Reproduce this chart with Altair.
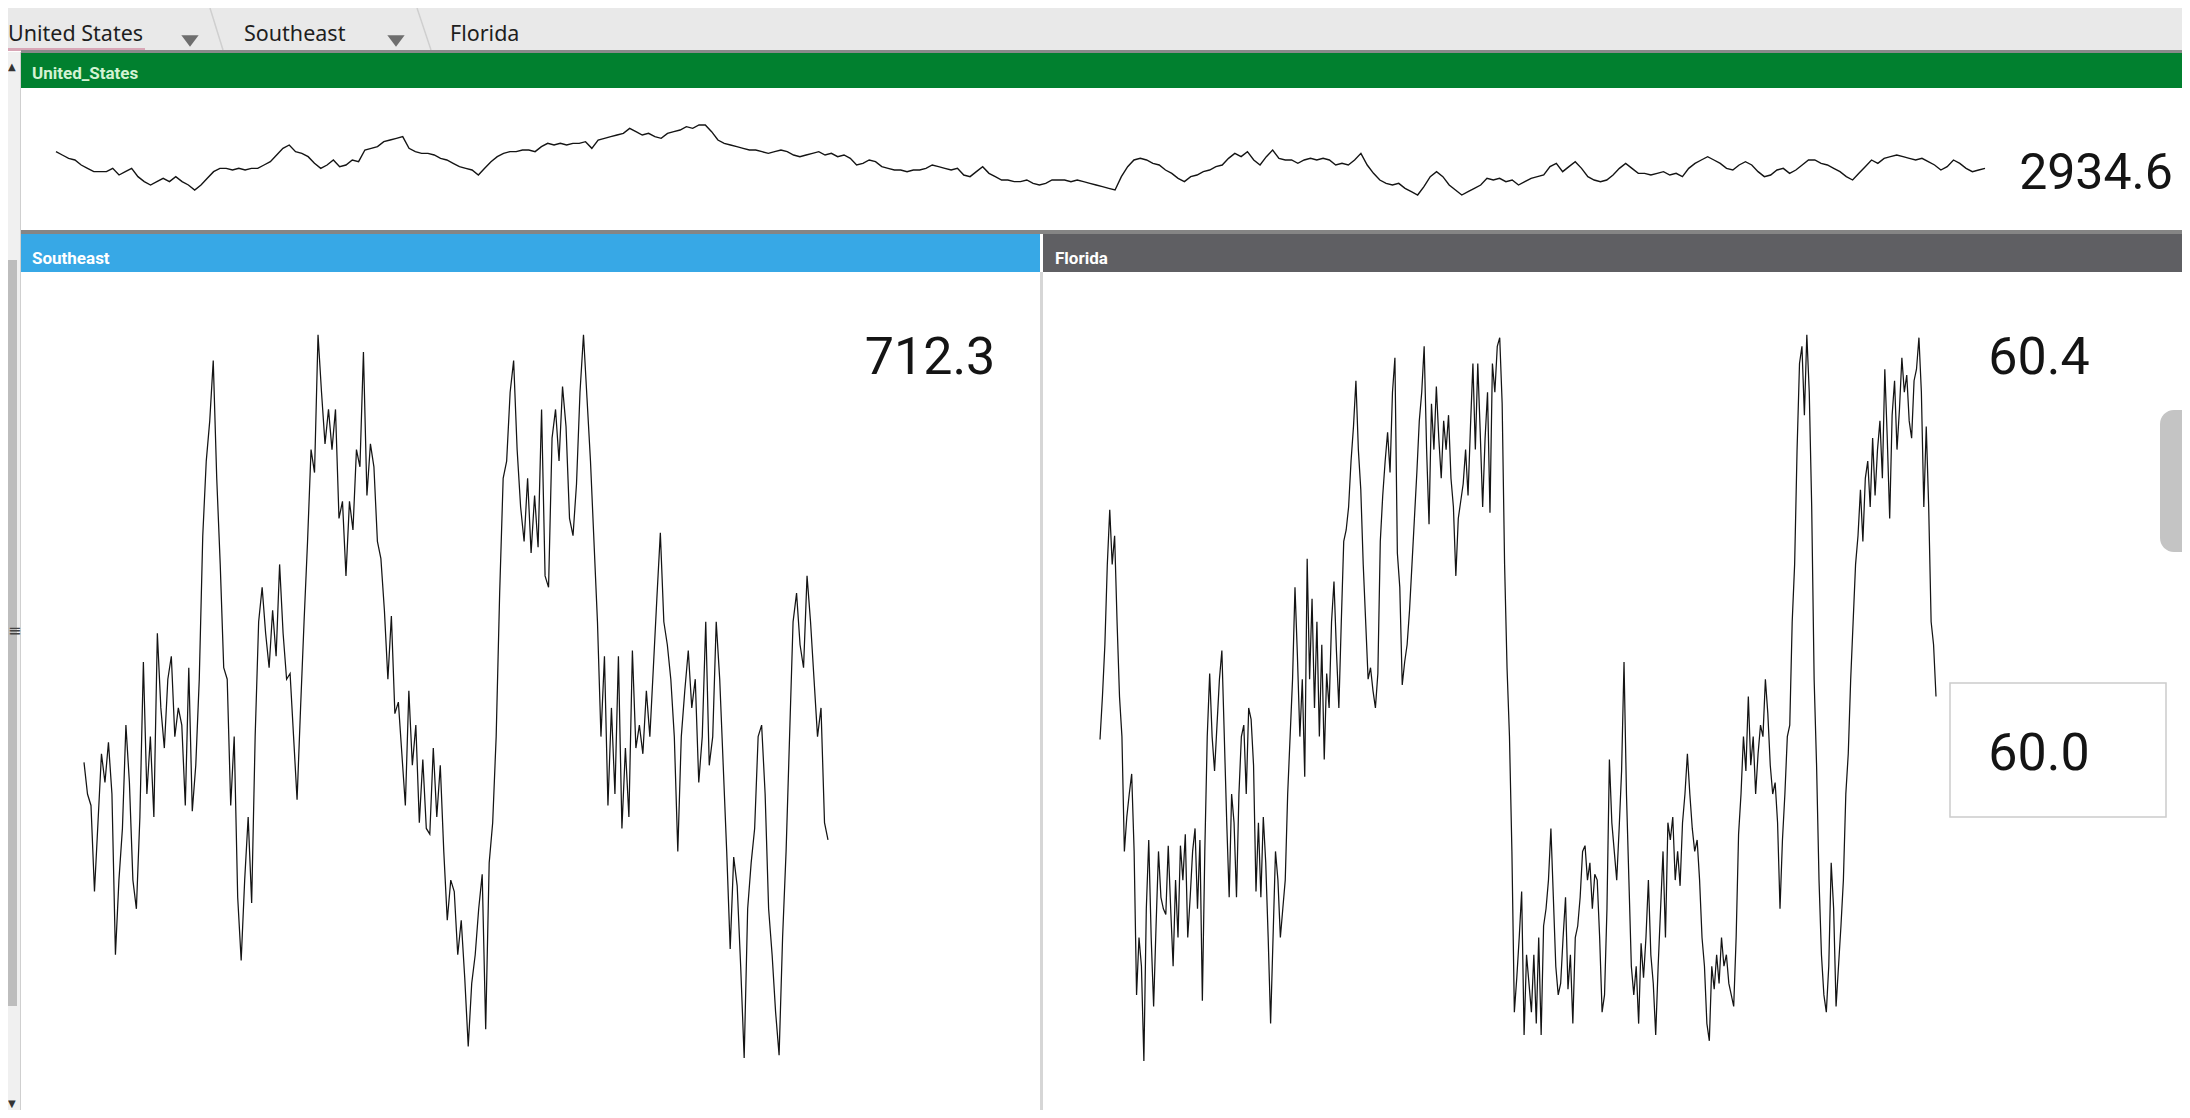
import altair as alt
import pandas as pd

# ---------------- data ----------------
breadcrumb = ["United States", "Southeast", "Florida"]
panel_names = ["United_States", "Southeast", "Florida"]
current_values = [2934.6, 712.3, 60.4]
florida_target = [60.0]

us_values = [175, 165, 155, 150, 135, 125, 115, 115, 115, 125, 105, 115, 125, 100, 85, 75, 85, 95, 85, 100,
             85, 75, 60, 75, 95, 115, 125, 125, 120, 125, 120, 125, 125, 135, 145, 165, 185, 195, 175, 170,
             160, 140, 125, 135, 150, 130, 135, 150, 145, 180, 185, 190, 205, 210, 215, 220, 185, 175, 170, 170,
             165, 155, 150, 140, 130, 125, 120, 105, 125, 145, 160, 170, 175, 175, 180, 180, 175, 190, 200, 195,
             200, 195, 200, 200, 205, 185, 210, 215, 220, 225, 230, 245, 235, 225, 230, 220, 215, 230, 235, 240,
             250, 245, 255, 255, 235, 210, 200, 195, 190, 185, 180, 180, 175, 170, 175, 180, 175, 165, 160, 165,
             170, 175, 165, 170, 160, 165, 155, 135, 140, 150, 145, 130, 125, 120, 120, 115, 120, 120, 125, 135,
             130, 125, 120, 125, 105, 100, 115, 130, 110, 100, 90, 90, 85, 85, 90, 80, 75,
             80, 90, 90, 90, 85, 90, 85, 80, 75, 70, 65, 60, 100, 130, 150, 155, 150, 140, 135, 120,
             110, 95, 85, 100, 105, 115, 120, 130, 135, 155, 170, 160, 175, 150, 135, 160, 180, 155, 150, 150,
             140, 150, 155, 150, 155, 150, 135, 140, 135, 150, 170, 135, 110, 90, 80, 75, 80, 65, 55, 45,
             70, 100, 115, 100, 75, 60, 45, 55, 65, 75, 95, 90, 95, 85, 90, 75, 85, 95, 100, 105,
             130, 140, 115, 130, 145, 125, 100, 90, 85, 90, 105, 125, 140, 125, 110, 110, 105, 110, 115, 105,
             110, 100, 125, 140, 150, 160, 150, 140, 125, 120, 135, 145, 135, 115, 100, 105, 120, 125, 110, 120,
             135, 150, 150, 140, 135, 125, 115, 100, 90, 110, 130, 150, 140, 155, 160, 165, 160, 155, 150, 155,
             145, 135, 120, 130, 150, 140, 125, 115, 120, 125]

se_values = [555, 500, 480, 330, 450, 570, 520, 590, 500, 220, 350, 440, 620, 520, 350, 300, 460, 730, 500, 600,
             460, 780, 650, 580, 700, 740, 600, 650, 620, 480, 720, 470, 550, 700, 950, 1080, 1150, 1255, 1050, 900,
             720, 700, 480, 600, 320, 210, 350, 460, 310, 600, 800, 860, 780, 720, 820, 740, 900, 780, 700, 710,
             600, 490, 650, 800, 940, 1100, 1060, 1300, 1200, 1110, 1170, 1100, 1170, 980, 1010, 880, 1010, 960, 1100, 1070,
             1270, 1020, 1110, 1070, 940, 910, 820, 700, 810, 640, 660, 570, 480, 680, 550, 620, 450, 560, 440, 430,
             580, 460, 550, 400, 280, 350, 330, 220, 280, 180, 60, 170, 220, 300, 360, 90, 380, 450, 600, 850,
             1050, 1080, 1200, 1255, 1100, 1000, 940, 1050, 920, 1020, 930, 1170, 880, 860, 1120, 1170, 1080, 1210, 1140, 980,
             950, 1040, 1200, 1300, 1190, 1080, 940, 800, 600, 740, 480, 650, 500, 740, 440, 580, 460, 750, 580, 620,
             570, 680, 600, 720, 840, 955, 800, 760, 700, 600, 400, 600, 680, 750, 650, 700, 520, 600, 800, 550,
             600, 800, 700, 550, 400, 230, 390, 340, 200, 40, 300, 380, 440, 600, 620, 500, 300, 220, 120, 45,
             250, 400, 600, 800, 850, 760, 720, 880, 800, 700, 600, 650, 450, 420]

fl_values = [595, 670, 760, 900, 995, 900, 950, 800, 670, 600, 400, 460, 500, 535, 400, 150, 250, 200, 35, 300,
             420, 250, 130, 270, 400, 320, 300, 290, 410, 300, 200, 350, 250, 410, 350, 430, 250, 320, 400, 440,
             300, 420, 140, 400, 600, 710, 600, 540, 620, 700, 750, 600, 450, 320, 500, 450, 320, 500, 600, 620,
             500, 650, 630, 550, 330, 450, 320, 460, 380, 250, 100, 250, 400, 350, 250, 300, 350, 500, 600, 700,
             860, 740, 600, 700, 530, 910, 700, 840, 650, 800, 600, 760, 560, 710, 650, 800, 870, 750, 650, 800,
             940, 960, 1000, 1080, 1140, 1220, 1100, 1030, 900, 800, 700, 720, 680, 650, 710, 940, 1020, 1080, 1130, 1060,
             1200, 1260, 920, 860, 690, 730, 760, 820, 900, 980, 1060, 1150, 1200, 1280, 1100, 970, 1180, 1100, 1210, 1120,
             1050, 1150, 1100, 1160, 1050, 1000, 880, 980, 1010, 1040, 1100, 1020, 1140, 1250, 1100, 1250, 1130, 1000, 1120, 1200,
             990, 1250, 1200, 1280, 1295, 1180, 900, 720, 600, 400, 120, 180, 250, 330, 80, 220, 170, 120, 220, 100,
             250, 80, 270, 300, 350, 440, 320, 200, 150, 170, 250, 320, 160, 220, 100, 250, 270, 320, 400, 410,
             350, 380, 300, 360, 350, 250, 120, 150, 300, 560, 450, 400, 350, 440, 540, 730, 500, 350, 200, 150,
             200, 100, 240, 180, 250, 350, 220, 170, 80, 200, 300, 400, 250, 450, 420, 460, 350, 400, 340, 450,
             500, 570, 500, 440, 400, 420, 350, 250, 200, 100, 70, 200, 160, 220, 170, 250, 200, 220, 170, 150,
             130, 250, 430, 500, 600, 540, 670, 550, 600, 500, 570, 620, 600, 700, 640, 550, 500, 520, 450, 300,
             420, 500, 600, 620, 800, 900, 1100, 1250, 1280, 1160, 1300, 1200, 1000, 700, 550, 350, 220, 150, 120, 200,
             380, 300, 130, 200, 270, 350, 500, 570, 700, 800, 900, 950, 1030, 940, 1050, 1080, 1000, 1120, 1020, 1100,
             1150, 1050, 1240, 1120, 980, 1160, 1220, 1100, 1170, 1260, 1200, 1230, 1150, 1120, 1220, 1240, 1295, 1200, 1000, 1140,
             1000, 800, 760, 670]

# ---------------- layout / style ----------------
W, H = 2174, 1102
one = pd.DataFrame({"k": [0]})
LINE = "#141414"
NUMFONT = "Roboto, sans-serif"
HEADFONT = "Roboto, sans-serif"
UI = "Noto Sans, Open Sans, sans-serif"


def rect(x, x2, y, y2, fill, **kw):
    return alt.Chart(one).mark_rect(fill=fill, **kw).encode(
        x=alt.value(x), x2=alt.value(x2), y=alt.value(y), y2=alt.value(y2))


def label(s, x, y, size, color, font=UI, weight="normal", align="left", baseline="alphabetic"):
    return alt.Chart(pd.DataFrame({"label": [s]})).mark_text(
        font=font, fontSize=size, color=color, fontWeight=weight, align=align, baseline=baseline
    ).encode(x=alt.value(x), y=alt.value(y), text=alt.Text("label:N"))


def number(v, x, y, size=52):
    return alt.Chart(pd.DataFrame({"value": [v]})).mark_text(
        font=NUMFONT, fontSize=size, color="#141414", align="center", baseline="alphabetic"
    ).encode(x=alt.value(x), y=alt.value(y), text=alt.Text("value:Q", format=".1f"))


def spark(vals, xr, yr, dom, width=1.2):
    df = pd.DataFrame({"t": list(range(len(vals))), "v": vals})
    return alt.Chart(df).mark_line(color=LINE, strokeWidth=width).encode(
        x=alt.X("t:Q", axis=None,
                scale=alt.Scale(domain=[0, len(vals) - 1], range=xr, nice=False, zero=False)),
        y=alt.Y("v:Q", axis=None,
                scale=alt.Scale(domain=dom, range=yr, nice=False, zero=False)))


tri = alt.Chart(pd.DataFrame({"k": [0, 1]})).mark_point(
    shape="M-1,-0.65L1,-0.65L0,0.65Z", size=300, filled=True, color="#6e6e6e", opacity=1
)

layers = [
    # breadcrumb bar
    rect(0, W, 0, 43, "#e9e9e9"),
    alt.Chart(one).mark_rule(color="#cfcfcf", strokeWidth=1.5).encode(
        x=alt.value(202), x2=alt.value(215), y=alt.value(0), y2=alt.value(42)),
    alt.Chart(one).mark_rule(color="#cfcfcf", strokeWidth=1.5).encode(
        x=alt.value(409), x2=alt.value(423), y=alt.value(0), y2=alt.value(42)),
    rect(0, 137, 40, 43, "#d8a6b6"),
    rect(13, W, 42, 45, "#8a8a8a"),
    # left scroll bar
    rect(0, 13, 44, H, "#f0f0f0"),
    rect(12, 13, 44, H, "#cfcfcf"),
    rect(0, 9, 252, 998, "#bdbdbd"),
    # green header + top panel
    rect(13, W, 45, 80, "#01802f"),
    rect(13, W, 80, 222, "#ffffff"),
    rect(13, W, 222, 226, "#858585"),
    # region headers
    rect(13, 1032, 226, 264, "#37a8e6"),
    rect(1035, W, 226, 264, "#5f5f63"),
    rect(1032, 1035, 264, H, "#d6d6d6"),
    # right scroll thumb
    rect(2152, 2200, 402, 544, "#c4c4c4", cornerRadius=14),
    # Florida target box
    rect(1942, 2158, 675, 809, "#ffffff", stroke="#cccccc", strokeWidth=1.5),
    # sparklines
    spark(us_values, [48, 1977], [202, 102], [0, 300], 1.4),
    spark(se_values, [76, 820], [1073, 212], [0, 1500], 1.25),
    spark(fl_values, [1092, 1928], [1073, 212], [0, 1500], 1.25),
    # breadcrumb texts
    label(breadcrumb[0], 0, 33, 21.5, "#1e1e1e"),
    label(breadcrumb[1], 236, 33, 21.5, "#1e1e1e"),
    label(breadcrumb[2], 442, 33, 21.5, "#1e1e1e"),
    tri.encode(x=alt.value(182), y=alt.value(33)).transform_filter("datum.k == 0"),
    tri.encode(x=alt.value(388), y=alt.value(33)).transform_filter("datum.k == 1"),
    # scroll arrows
    label("▲", 0, 62, 10, "#333333", font="DejaVu Sans"),
    label("▼", 0, 1099, 10, "#333333", font="DejaVu Sans"),
    label("≡", 0, 628, 16, "#444444", font="DejaVu Sans"),
    # panel header labels
    label(panel_names[0], 24, 71, 17, "#d3f3d3", font=HEADFONT, weight="bold"),
    label(panel_names[1], 24, 256, 17, "#ffffff", font=HEADFONT, weight="bold"),
    label(panel_names[2], 1047, 256, 17, "#ffffff", font=HEADFONT, weight="bold"),
    # current values
    number(current_values[0], 2088, 181, 50),
    number(current_values[1], 922, 366),
    number(current_values[2], 2031, 366),
    number(florida_target[0], 2031, 762),
]

chart = alt.layer(*layers).resolve_scale(x="independent", y="independent").properties(
    width=W, height=H, autosize=alt.AutoSizeParams(type="none"), padding=0, background="white"
).configure_view(stroke=None)

chart.save("out.html", embed_options={"renderer": "svg", "actions": False})
